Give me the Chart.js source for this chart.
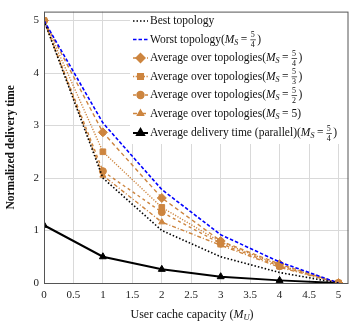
<!DOCTYPE html>
<html>
<head>
<meta charset="utf-8">
<script src="https://cdn.jsdelivr.net/npm/chart.js@4"></script>
<style>
  html, body { margin: 0; padding: 0; background: #fff; }
  #wrap { width: 354px; height: 327px; }
</style>
</head>
<body>
<div id="wrap"><canvas id="chart" width="354" height="327"></canvas></div>
<script>
// user cache capacity M_U
const capacities = [0, 1, 2, 3, 4, 5]
const xTicks = [0, 0.5, 1, 1.5, 2, 2.5, 3, 3.5, 4, 4.5, 5]
const yTicks = [0, 1, 2, 3, 4, 5]

const bestTopology = [5, 2, 1, 0.5, 0.2, 0]
const worstTopology = [5, 3.05, 1.78, 0.92, 0.4, 0]
const avgMs54 = [5, 2.87, 1.62, 0.8, 0.36, 0]
const avgMs53 = [5, 2.5, 1.44, 0.78, 0.34, 0]
const avgMs52 = [5, 2.13, 1.35, 0.75, 0.32, 0]
const avgMs5 = [5, 2.05, 1.16, 0.72, 0.3, 0]
const parallelTime = [1.1, 0.5, 0.26, 0.12, 0.05, 0]

// legend text: prefix and the M_S value (fraction pair or plain)
const legendPrefixes = ["Best topology", "Worst topology", "Average over topologies", "Average over topologies",
  "Average over topologies", "Average over topologies", "Average delivery time (parallel)"]
const legendMs = [null, ["5", "4"], ["5", "4"], ["5", "3"], ["5", "2"], "5", ["5", "4"]]

const orange = "rgb(205,133,63)"
const serif = '"Liberation Serif", "DejaVu Serif", serif'

const pts = arr => arr.map((v, i) => ({ x: capacities[i], y: v }))

function series(data, color, dash, width, marker, radius) {
  return {
    data: pts(data),
    showLine: true,
    borderColor: color,
    backgroundColor: color,
    borderDash: dash,
    borderWidth: width,
    pointStyle: marker || false,
    pointRadius: marker ? radius : 0,
    pointBorderWidth: 1,
    tension: 0
  }
}

const datasets = [
  series(bestTopology, "#000", [1.5, 2], 1.6, null, 0),
  series(worstTopology, "rgb(0,0,255)", [3.5, 2], 1.6, null, 0),
  series(avgMs54, orange, [4, 3], 1.4, "rectRot", 4.5),
  series(avgMs53, orange, [1.2, 1.5], 1.4, "rect", 4),
  series(avgMs52, orange, [3, 3], 1.4, "circle", 3.5),
  series(avgMs5, orange, [4, 2, 1, 2], 1.4, "triangle", 3.5),
  series(parallelTime, "#000", [], 2, "triangle", 4)
]

const framePlugin = {
  id: "frame",
  afterDatasetsDraw(chart) {
    const { ctx, chartArea: a } = chart
    ctx.save()

    // legend
    ctx.fillStyle = "#fff"
    ctx.fillRect(130, 6, 222, 138)
    const rows = [21, 39.5, 58, 76.5, 95, 113.5, 133]
    chart.data.datasets.forEach((ds, i) => {
      const y = rows[i]
      ctx.save()
      ctx.strokeStyle = ds.borderColor
      ctx.lineWidth = ds.borderWidth
      ctx.setLineDash(ds.borderDash)
      ctx.beginPath()
      ctx.moveTo(133, y)
      ctx.lineTo(148, y)
      ctx.stroke()
      ctx.setLineDash([])
      if (ds.pointStyle) {
        Chart.helpers.drawPoint(ctx, { pointStyle: ds.pointStyle, radius: ds.pointRadius, borderWidth: 1 }, 140.5, y)
        ctx.fillStyle = ds.backgroundColor
        ctx.fill()
      }
      ctx.restore()
      drawLabel(ctx, 150, y, legendPrefixes[i], legendMs[i])
    })

    // frame
    ctx.strokeStyle = "#555"
    ctx.lineWidth = 1
    ctx.strokeRect(a.left + 0.5, a.top + 0.5, a.right - a.left - 1, a.bottom - a.top)

    // x axis title with math subscript
    const parts = [["User cache capacity (", "12px " + serif, 0], ["M", "italic 12px " + serif, 0],
      ["U", "italic 8.5px " + serif, 3], [")", "12px " + serif, 0]]
    let total = 0
    parts.forEach(p => { ctx.font = p[1]; total += ctx.measureText(p[0]).width })
    let x = 192 - total / 2
    ctx.fillStyle = "#111"
    ctx.textBaseline = "middle"
    ctx.textAlign = "left"
    parts.forEach(p => { ctx.font = p[1]; ctx.fillText(p[0], x, 315 + p[2]); x += ctx.measureText(p[0]).width })
    ctx.restore()
  }
}

function drawLabel(ctx, x, y, prefix, ms) {
  const fs = "11.5px " + serif
  ctx.fillStyle = "#111"
  ctx.textBaseline = "middle"
  ctx.textAlign = "left"
  ctx.font = fs
  ctx.fillText(prefix, x, y)
  if (ms === null) return
  x += ctx.measureText(prefix).width
  ctx.fillText("(", x, y); x += ctx.measureText("(").width
  ctx.font = "italic " + fs
  ctx.fillText("M", x, y); x += ctx.measureText("M").width
  ctx.font = "italic 8px " + serif
  ctx.fillText("S", x, y + 3); x += ctx.measureText("S").width + 2.5
  ctx.font = fs
  ctx.fillText("=", x, y); x += ctx.measureText("=").width + 3
  if (Array.isArray(ms)) {
    ctx.font = "8px " + serif
    ctx.textAlign = "center"
    ctx.fillText(ms[0], x + 2.5, y - 4.5)
    ctx.fillText(ms[1], x + 2.5, y + 5.5)
    ctx.fillRect(x, y, 5.5, 0.7)
    ctx.textAlign = "left"
    x += 7
  } else {
    ctx.fillText(ms, x, y); x += ctx.measureText(ms).width
  }
  ctx.font = fs
  ctx.fillText(")", x, y)
}

new Chart(document.getElementById("chart"), {
  type: "scatter",
  data: { datasets: datasets },
  options: {
    responsive: false,
    animation: false,
    layout: { padding: { top: 3, right: 3, left: 0, bottom: 0 } },
    plugins: { legend: { display: false }, tooltip: { enabled: false } },
    scales: {
      x: {
        type: "linear",
        min: 0,
        max: 5.17,
        afterBuildTicks: s => { s.ticks = xTicks.map(v => ({ value: v })) },
        afterFit: s => { s.height = 44 },
        grid: { color: "#d9d9d9", drawTicks: false },
        border: { display: false },
        ticks: { color: "#222", font: { family: serif, size: 11 }, padding: 6, maxRotation: 0, callback: v => String(v) },
        title: { display: false }
      },
      y: {
        min: 0,
        max: 5.17,
        afterBuildTicks: s => { s.ticks = yTicks.map(v => ({ value: v })) },
        afterFit: s => { s.width = 44 },
        grid: { color: "#d9d9d9", drawTicks: false },
        border: { display: false },
        ticks: { color: "#222", font: { family: serif, size: 11 }, padding: 5, callback: v => String(v) },
        title: { display: true, text: "Normalized delivery time", color: "#111", font: { family: serif, size: 11.5, weight: "bold" }, padding: { bottom: 5 } }
      }
    }
  },
  plugins: [framePlugin]
})
</script>
</body>
</html>
